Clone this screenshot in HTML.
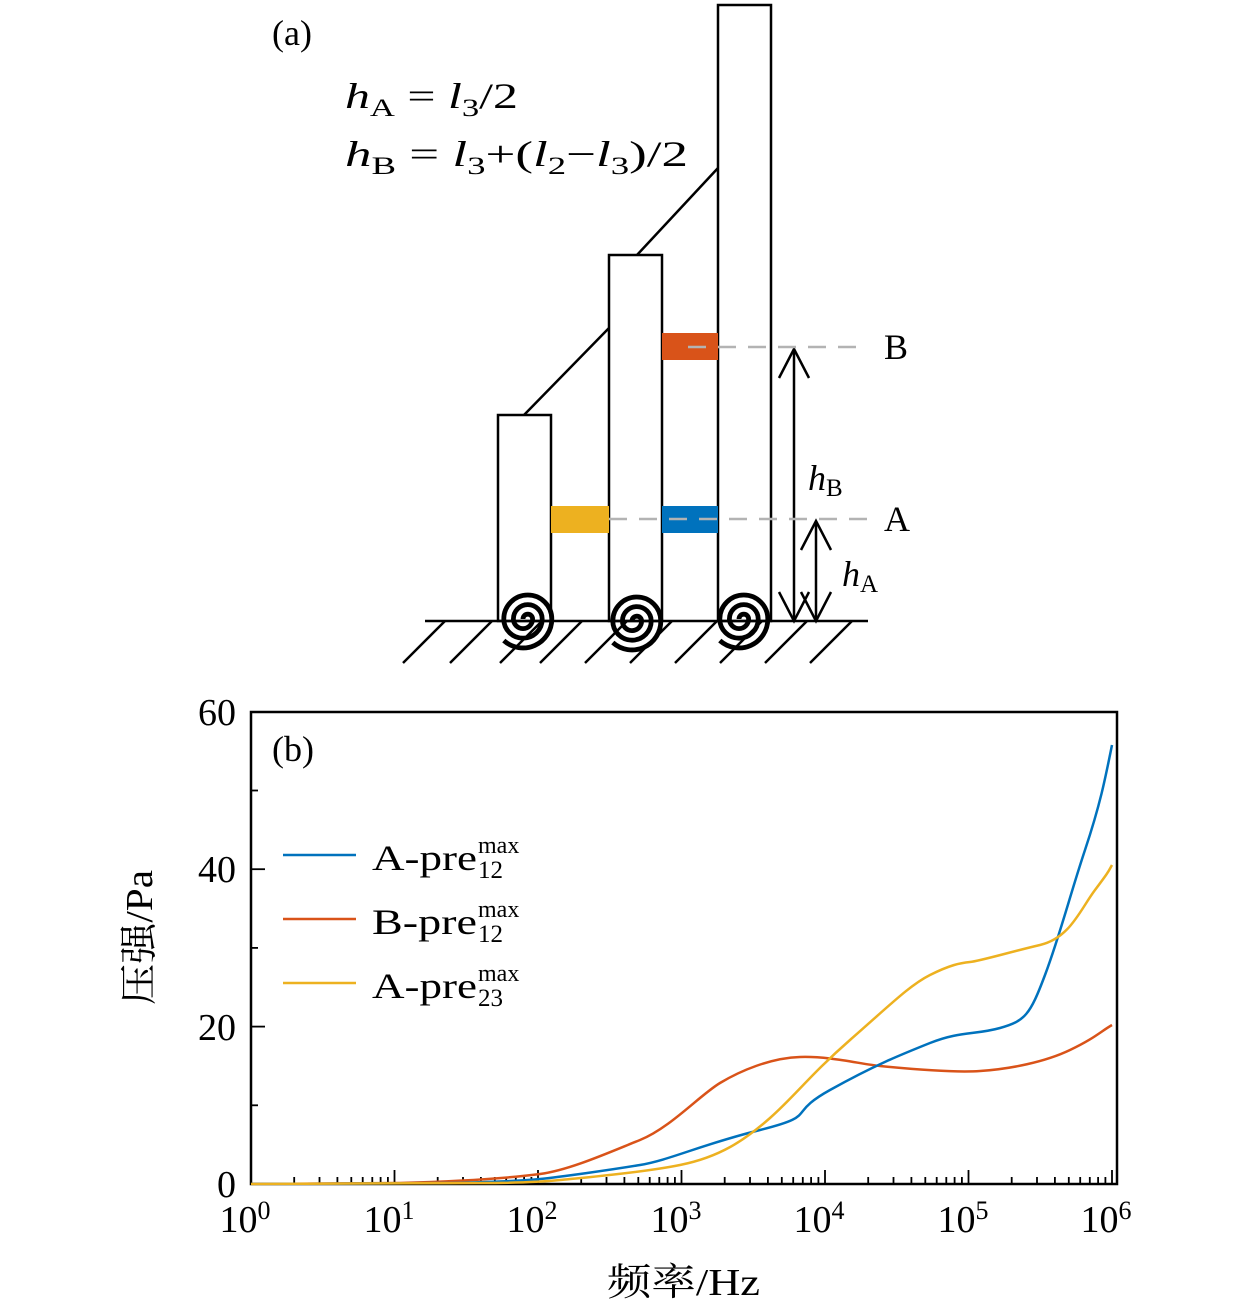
<!DOCTYPE html>
<html><head><meta charset="utf-8"><style>
html,body{margin:0;padding:0;background:#fff}
svg{display:block}
text{font-family:"Liberation Serif","Noto Serif CJK SC",serif;fill:#000}
</style></head><body>
<svg width="1260" height="1314" viewBox="0 0 1260 1314" xmlns="http://www.w3.org/2000/svg">
<defs>
<g id="m">
<line x1="43.2" y1="1184" x2="43.2" y2="1177"/><line x1="68.5" y1="1184" x2="68.5" y2="1177"/>
<line x1="86.4" y1="1184" x2="86.4" y2="1177"/><line x1="100.3" y1="1184" x2="100.3" y2="1177"/>
<line x1="111.7" y1="1184" x2="111.7" y2="1177"/><line x1="121.3" y1="1184" x2="121.3" y2="1177"/>
<line x1="129.6" y1="1184" x2="129.6" y2="1177"/><line x1="136.9" y1="1184" x2="136.9" y2="1177"/>
<line x1="143.5" y1="1184" x2="143.5" y2="1170"/>
</g>
<path id="sp" d="M0 0 a4 4 0 0 1 8 0 a8 8 0 0 1 -16 0 a12 12 0 0 1 24 0 a16 16 0 0 1 -32 0 a20 20 0 0 1 40 0 a24 24 0 0 1 -40 18" fill="none" stroke="#000" stroke-width="4"/>
</defs>
<!-- (a) -->
<text x="272" y="45" font-size="36">(a)</text>
<text x="345" y="108" font-size="36" textLength="173" lengthAdjust="spacingAndGlyphs"><tspan font-style="italic">h</tspan><tspan font-size="25" dy="8">A</tspan><tspan dy="-8"> = </tspan><tspan font-style="italic">l</tspan><tspan font-size="25" dy="8">3</tspan><tspan dy="-8">/2</tspan></text>
<text x="345" y="166" font-size="36" textLength="343" lengthAdjust="spacingAndGlyphs"><tspan font-style="italic">h</tspan><tspan font-size="25" dy="8">B</tspan><tspan dy="-8"> = </tspan><tspan font-style="italic">l</tspan><tspan font-size="25" dy="8">3</tspan><tspan dy="-8">+(</tspan><tspan font-style="italic">l</tspan><tspan font-size="25" dy="8">2</tspan><tspan dy="-8">−</tspan><tspan font-style="italic">l</tspan><tspan font-size="25" dy="8">3</tspan><tspan dy="-8">)/2</tspan></text>
<g fill="none" stroke="#000" stroke-width="2.5">
<rect x="498" y="415" width="53" height="206"/>
<rect x="609" y="255" width="53" height="366"/>
<rect x="718" y="5" width="53" height="616"/>
<line x1="524" y1="415" x2="609" y2="328"/>
<line x1="637" y1="255" x2="718" y2="168"/>
<line x1="425" y1="621" x2="868" y2="621"/>
<g>
<line x1="403" y1="663" x2="445" y2="621"/><line x1="450" y1="663" x2="492" y2="621"/>
<line x1="500" y1="663" x2="542" y2="621"/><line x1="540" y1="663" x2="582" y2="621"/>
<line x1="585" y1="663" x2="627" y2="621"/><line x1="630" y1="663" x2="672" y2="621"/>
<line x1="675" y1="663" x2="717" y2="621"/><line x1="720" y1="663" x2="762" y2="621"/>
<line x1="765" y1="663" x2="807" y2="621"/><line x1="810" y1="663" x2="852" y2="621"/>
</g>
<line x1="794" y1="349" x2="794" y2="621"/>
<polyline points="779,378 794,349 809,378"/>
<polyline points="779,592 794,621 809,592"/>
<line x1="816" y1="521" x2="816" y2="621"/>
<polyline points="801,550 816,521 831,550"/>
<polyline points="801,592 816,621 831,592"/>
</g>
<rect x="662" y="333" width="56" height="27" fill="#d95319"/>
<rect x="551" y="506" width="58" height="27" fill="#edb120"/>
<rect x="662" y="506" width="56" height="27" fill="#0072bd"/>
<g stroke="#b3b3b3" stroke-width="2.5" stroke-dasharray="18,12">
<line x1="688" y1="347" x2="858" y2="347"/>
<line x1="609" y1="519" x2="868" y2="519"/>
</g>
<use href="#sp" transform="translate(523,619) scale(1.2)"/>
<use href="#sp" transform="translate(632,621) scale(1.2)"/>
<use href="#sp" transform="translate(739,619) scale(1.2)"/>
<text x="884" y="359" font-size="36">B</text>
<text x="884" y="531" font-size="36">A</text>
<text x="808" y="490" font-size="36"><tspan font-style="italic">h</tspan><tspan font-size="25" dy="6">B</tspan></text>
<text x="842" y="586" font-size="36"><tspan font-style="italic">h</tspan><tspan font-size="25" dy="6">A</tspan></text>
<!-- (b) -->
<rect x="251" y="712" width="866" height="472" fill="none" stroke="#000" stroke-width="2.5"/>
<g stroke="#000" stroke-width="1.8">
<use href="#m" x="251"/><use href="#m" x="394.5"/><use href="#m" x="538"/>
<use href="#m" x="681.5"/><use href="#m" x="825"/><use href="#m" x="968.5"/>
<line x1="251" y1="1105.3" x2="258" y2="1105.3"/><line x1="251" y1="1026.6" x2="265" y2="1026.6"/>
<line x1="251" y1="947.9" x2="258" y2="947.9"/><line x1="251" y1="869.2" x2="265" y2="869.2"/>
<line x1="251" y1="790.5" x2="258" y2="790.5"/>
</g>
<g font-size="38" text-anchor="end">
<text x="236" y="1197">0</text><text x="236" y="1040">20</text>
<text x="236" y="882">40</text><text x="236" y="725">60</text>
</g>
<g font-size="38" text-anchor="middle">
<text x="245" y="1232">10<tspan font-size="26" dy="-13">0</tspan></text>
<text x="389" y="1232">10<tspan font-size="26" dy="-13">1</tspan></text>
<text x="532" y="1232">10<tspan font-size="26" dy="-13">2</tspan></text>
<text x="676" y="1232">10<tspan font-size="26" dy="-13">3</tspan></text>
<text x="819" y="1232">10<tspan font-size="26" dy="-13">4</tspan></text>
<text x="963" y="1232">10<tspan font-size="26" dy="-13">5</tspan></text>
<text x="1106" y="1232">10<tspan font-size="26" dy="-13">6</tspan></text>
</g>
<text x="607" y="1295" font-size="38" textLength="153" lengthAdjust="spacingAndGlyphs">频率/Hz</text>
<text transform="translate(152,1005) rotate(-90)" font-size="38" textLength="135" lengthAdjust="spacingAndGlyphs">压强/Pa</text>
<text x="272" y="761" font-size="36">(b)</text>
<g fill="none" stroke-width="2.5" stroke-linejoin="round">
<path stroke="#d95319" d="M251 1184 L400 1183 C470 1181 510 1178 540 1174 S610 1152 640 1140 S700 1095 720 1083 S770 1058 800 1057 S860 1064 880 1066 S950 1073 980 1071 S1045 1062 1070 1050 S1100 1032 1112 1025"/>
<path stroke="#0072bd" d="M251 1184 L450 1183 C500 1182 520 1181 540 1179 S610 1170 640 1165 S700 1145 760 1130 S785 1115 830 1090 S900 1055 930 1043 S975 1035 1000 1028 S1030 1015 1045 975 S1070 895 1085 850 S1105 780 1112 745"/>
<path stroke="#edb120" d="M251 1184 L480 1183 C520 1183 540 1182 560 1180 S640 1173 680 1165 S745 1140 770 1118 S810 1075 850 1040 S910 985 930 975 S960 963 970 962 S1010 952 1040 945 S1080 910 1095 890 S1108 872 1112 865"/>
</g>
<g stroke-width="2.5">
<line x1="283" y1="855" x2="356" y2="855" stroke="#0072bd"/>
<line x1="283" y1="919" x2="356" y2="919" stroke="#d95319"/>
<line x1="283" y1="983" x2="356" y2="983" stroke="#edb120"/>
</g>
<g font-size="36">
<text x="372" y="870" textLength="105" lengthAdjust="spacingAndGlyphs">A-pre</text><text x="478" y="853" font-size="24">max</text><text x="478" y="878" font-size="25">12</text>
<text x="372" y="934" textLength="105" lengthAdjust="spacingAndGlyphs">B-pre</text><text x="478" y="917" font-size="24">max</text><text x="478" y="942" font-size="25">12</text>
<text x="372" y="998" textLength="105" lengthAdjust="spacingAndGlyphs">A-pre</text><text x="478" y="981" font-size="24">max</text><text x="478" y="1006" font-size="25">23</text>
</g>
</svg>
</body></html>
